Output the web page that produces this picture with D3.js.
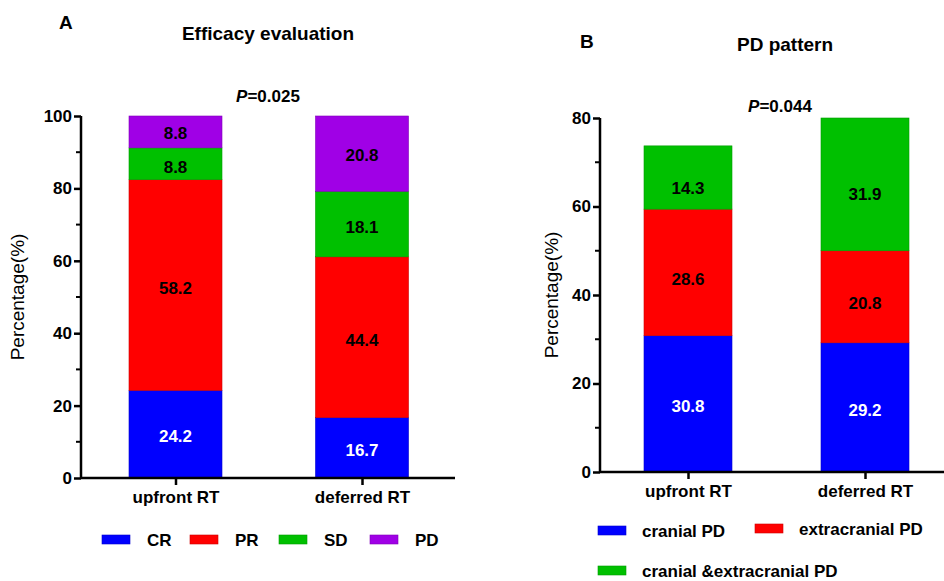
<!DOCTYPE html>
<html>
<head>
<meta charset="utf-8">
<script src="https://cdn.jsdelivr.net/npm/d3@7"></script>
<style>
body { margin: 0; background: #fff; }
svg { font-family: "Liberation Sans", Arial, sans-serif; }
</style>
</head>
<body>
<svg id="chart" width="944" height="581"></svg>
<script>
// panel A data
var groupsA = ["upfront RT", "deferred RT"];
var keysA = ["CR", "PR", "SD", "PD"];
var crA = [24.2, 16.7];
var prA = [58.2, 44.4];
var sdA = [8.8, 18.1];
var pdA = [8.8, 20.8];
var ticksA = [0, 20, 40, 60, 80, 100];

// panel B data
var groupsB = ["upfront RT", "deferred RT"];
var keysB = ["cranial PD", "extracranial PD", "cranial &extracranial PD"];
var cranialB = [30.8, 29.2];
var extraB = [28.6, 20.8];
var bothB = [14.3, 31.9];
var ticksB = [0, 20, 40, 60, 80];

var svg = d3.select("#chart");

function drawPanel(opt) {
    var g = svg.append("g");
    var y = d3.scaleLinear().domain([0, opt.max]).range([opt.y0, opt.y1]).clamp(true);
    var x = d3.scalePoint().domain(opt.groups).range([opt.c0, opt.c1]);

    var rows = opt.groups.map(function(grp, i) {
        var r = {group: grp};
        opt.keys.forEach(function(k, j) { r[k] = opt.series[j][i]; });
        return r;
    });
    var stack = d3.stack().keys(opt.keys)(rows);

    // bars
    stack.forEach(function(layer, j) {
        layer.forEach(function(d) {
            var top = y(d[1]), bot = y(d[0]);
            g.append("rect")
                .attr("x", x(d.data.group) - opt.bw / 2)
                .attr("y", top)
                .attr("width", opt.bw)
                .attr("height", bot - top)
                .attr("fill", opt.colors[j])
                .attr("stroke", d3.color(opt.colors[j]).darker(0.6))
                .attr("stroke-width", 0.6);
            g.append("text")
                .attr("x", x(d.data.group))
                .attr("y", (top + bot) / 2 + opt.labelShift[j])
                .attr("dy", "0.36em")
                .attr("text-anchor", "middle")
                .attr("font-size", 17)
                .attr("font-weight", "bold")
                .attr("fill", j == 0 ? "#fff" : "#000")
                .text(d.data[opt.keys[j]].toFixed(1));
        });
    });

    // y axis
    var ya = g.append("g")
        .attr("transform", "translate(" + opt.ax + ",0)")
        .call(d3.axisLeft(y).tickValues(opt.ticks).tickSize(7).tickPadding(2));
    ya.selectAll(".tick text").attr("font-size", 17).attr("font-weight", "bold")
        .attr("font-family", "Liberation Sans, Arial, sans-serif").attr("fill", "#000");
    var minor = d3.range(10, opt.max, 20);
    ya.selectAll(".minor").data(minor).enter().append("line")
        .attr("x1", -5).attr("x2", 0)
        .attr("y1", function(d) { return y(d); }).attr("y2", function(d) { return y(d); })
        .attr("stroke", "#000").attr("stroke-width", 2);

    // x axis
    var xa = g.append("g")
        .attr("transform", "translate(0," + opt.y0 + ")")
        .call(d3.axisBottom(x).tickSize(7).tickPadding(6));
    xa.select(".domain").attr("d", "M" + opt.ax + ",0H" + opt.xend);
    xa.selectAll(".tick text").attr("font-size", 17).attr("font-weight", "bold")
        .attr("font-family", "Liberation Sans, Arial, sans-serif").attr("fill", "#000");
    g.selectAll(".domain, .tick line").attr("stroke", "#000").attr("stroke-width", 2.5);
    ya.select(".domain").attr("d", "M0," + opt.y1 + "V" + opt.y0);

    // y label
    g.append("text")
        .attr("transform", "translate(" + opt.ylx + "," + ((opt.y0 + opt.y1) / 2) + ") rotate(-90)")
        .attr("text-anchor", "middle")
        .attr("font-size", 19)
        .text("Percentage(%)");

    // titles
    g.append("text").attr("x", opt.letter[0]).attr("y", opt.letter[1])
        .attr("font-size", 19).attr("font-weight", "bold").text(opt.letterText);
    g.append("text").attr("x", opt.title[0]).attr("y", opt.title[1])
        .attr("text-anchor", "middle").attr("font-size", 19).attr("font-weight", "bold")
        .text(opt.titleText);
    var p = g.append("text").attr("x", opt.pval[0]).attr("y", opt.pval[1])
        .attr("text-anchor", "middle").attr("font-size", 17).attr("font-weight", "bold");
    p.append("tspan").attr("font-style", "italic").text("P");
    p.append("tspan").text("=" + opt.pText);

    // legend
    opt.keys.forEach(function(k, j) {
        var pos = opt.legend[j];
        g.append("rect").attr("x", pos[0]).attr("y", pos[1] - 5)
            .attr("width", 28).attr("height", 9)
            .attr("fill", opt.colors[j])
            .attr("stroke", d3.color(opt.colors[j]).darker(0.6)).attr("stroke-width", 0.6);
        g.append("text").attr("x", pos[0] + opt.legendGap).attr("y", pos[1])
            .attr("dy", "0.36em").attr("font-size", 17).attr("font-weight", "bold")
            .text(k);
    });
}

drawPanel({
    groups: groupsA, keys: keysA, series: [crA, prA, sdA, pdA],
    colors: ["#0000ff", "#ff0000", "#00c000", "#a000e6"],
    max: 100, ticks: ticksA, y0: 478, y1: 116, c0: 175.5, c1: 362, bw: 93,
    ax: 81, xend: 455, ylx: 24, labelShift: [2, 3, 3, 1],
    letter: [59, 29], letterText: "A",
    title: [268, 40], titleText: "Efficacy evaluation",
    pval: [268, 102], pText: "0.025",
    legend: [[102, 540], [190, 540], [279, 540], [370, 540]], legendGap: 45
});

drawPanel({
    groups: groupsB, keys: keysB, series: [cranialB, extraB, bothB],
    colors: ["#0000ff", "#ff0000", "#00c000"],
    max: 80, ticks: ticksB, y0: 472, y1: 118, c0: 688, c1: 865, bw: 88,
    ax: 600, xend: 944, ylx: 558, labelShift: [2, 6, 10],
    letter: [580, 48], letterText: "B",
    title: [785, 51], titleText: "PD pattern",
    pval: [780, 112], pText: "0.044",
    legend: [[598, 531], [755, 529], [598, 571]], legendGap: 44
});
</script>
</body>
</html>
